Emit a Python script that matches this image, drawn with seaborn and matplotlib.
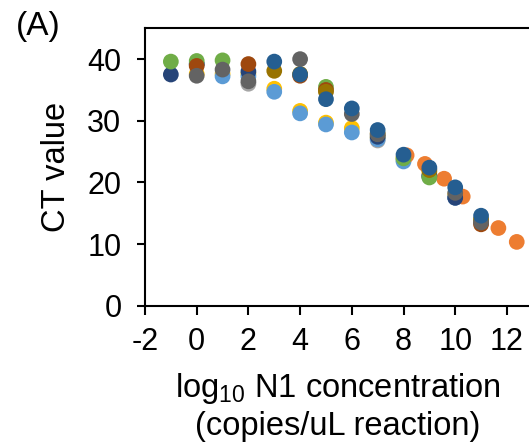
import pandas as pd
import seaborn as sns
import matplotlib.pyplot as plt

# values, one list per series (draw order = list order)
yellow_x = [0, 1, 2, 3, 4, 5, 6, 7, 8, 9, 10, 11]
yellow_y = [37.6, 37.6, 37.6, 35.2, 31.6, 29.7, 28.8, 27.3, 24.0, 21.6, 18.0, 13.9]
lightgray_x = [2, 7, 8, 9, 10, 11]
lightgray_y = [36.0, 26.8, 23.6, 21.0, 17.6, 13.7]
lightblue_x = [0, 1, 2, 3, 4, 5, 6, 7, 8, 9, 10, 11]
lightblue_y = [39.2, 37.2, 37.2, 34.7, 31.2, 29.4, 28.1, 27.0, 23.4, 20.9, 17.5, 13.6]
orange_x = [8.12, 8.83, 9.57, 10.29, 11.67, 12.38]
orange_y = [24.4, 23.0, 20.6, 17.7, 12.6, 10.35]
navy_x = [-1, 0, 2, 7, 9, 10]
navy_y = [37.5, 39.2, 38.0, 27.4, 21.1, 17.5]
green_x = [-1, 0, 1, 5, 8, 9]
green_y = [39.6, 39.7, 39.8, 35.5, 23.9, 20.8]
brown_x = [0, 2, 4, 5, 11]
brown_y = [38.9, 39.2, 37.3, 35.0, 13.2]
olive_x = [3, 4, 5, 7, 9, 11]
olive_y = [38.1, 37.6, 34.7, 27.9, 22.0, 14.0]
darkgray_x = [0, 1, 2, 4, 6, 7, 10, 11]
darkgray_y = [37.3, 38.3, 36.4, 40.0, 31.1, 27.8, 18.3, 13.5]
blue_x = [3, 4, 5, 6, 7, 8, 9, 10, 11]
blue_y = [39.6, 37.5, 33.5, 32.0, 28.5, 24.5, 22.4, 19.2, 14.6]

series = {
    'yellow': (yellow_x, yellow_y, '#FFC000'),
    'lightgray': (lightgray_x, lightgray_y, '#A5A5A5'),
    'lightblue': (lightblue_x, lightblue_y, '#5B9BD5'),
    'orange': (orange_x, orange_y, '#ED7D31'),
    'navy': (navy_x, navy_y, '#264478'),
    'green': (green_x, green_y, '#70AD47'),
    'brown': (brown_x, brown_y, '#9E480E'),
    'olive': (olive_x, olive_y, '#997300'),
    'darkgray': (darkgray_x, darkgray_y, '#636363'),
    'blue': (blue_x, blue_y, '#255E91'),
}

frames = []
for name, (xs, ys, c) in series.items():
    frames.append(pd.DataFrame({'x': xs, 'y': ys, 'series': name}))
df = pd.concat(frames, ignore_index=True)
palette = {name: v[2] for name, v in series.items()}

sns.set_style('ticks')
plt.rcParams['font.family'] = ['Liberation Sans', 'DejaVu Sans']
plt.rcParams['axes.unicode_minus'] = False
plt.rcParams['text.color'] = 'black'
plt.rcParams['axes.labelcolor'] = 'black'

fig = plt.figure(figsize=(5.29, 4.48), dpi=100)
ax = fig.add_axes([145 / 529, 1 - 305.7 / 448, 400.7 / 529, 277.4 / 448])

sns.scatterplot(data=df, x='x', y='y', hue='series', palette=palette,
                s=128, linewidth=0, alpha=1, legend=False, ax=ax)

ax.set_xlim(-2, 13.5)
ax.set_ylim(0, 45)
ax.set_xticks(range(-2, 13, 2))
ax.set_yticks(range(0, 41, 10))

for side in ['left', 'bottom', 'top']:
    ax.spines[side].set_linewidth(1.5)
    ax.spines[side].set_color('black')
ax.spines['right'].set_visible(False)

ax.tick_params(axis='x', direction='out', length=6.3, width=1.5, pad=9,
               labelsize=22, colors='black')
ax.tick_params(axis='y', direction='out', length=6, width=1.5, pad=11,
               labelsize=22, colors='black')

ax.set_xlabel('log$_{\\mathregular{10}}$ N1 concentration\n(copies/uL reaction)',
              fontsize=23.5, linespacing=1.2)
ax.xaxis.set_label_coords((338 - 145) / 400.7, -0.235)
ax.set_ylabel('CT value', fontsize=23.5, va='center')
ax.yaxis.set_label_coords((56 - 145) / 400.7, 0.5)

fig.text(38 / 529, 1 - 27 / 448, '(A)', fontsize=24, ha='center', va='center')

fig.savefig('out.png', dpi=100)
